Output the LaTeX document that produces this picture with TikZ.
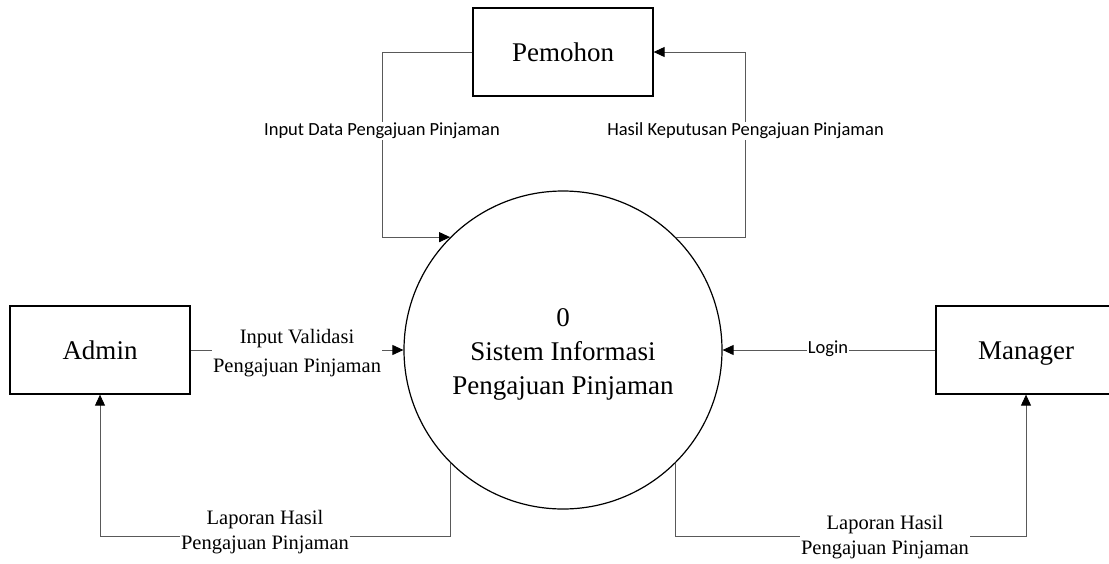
\documentclass[tikz,border=0pt]{standalone}
\usepackage{fontspec}
\setmainfont{Liberation Serif}
\newfontfamily\lblfont{Carlito}
\usetikzlibrary{arrows.meta}
\begin{document}
\begin{tikzpicture}[x=1pt,y=-1pt,
  entity/.style={draw=black,line width=1.3pt,minimum width=180pt,minimum height=88pt,inner sep=0pt,text height=18.5pt,text depth=0pt,font=\fontsize{27}{32}\selectfont},
  process/.style={draw=black,line width=1.2pt,circle,minimum size=318pt,inner sep=0pt,align=center,font=\fontsize{27}{34}\selectfont},
  flow/.style={draw=black!65,line width=0.9pt,-{Triangle[length=11pt,width=10pt,fill=black,color=black]}},
  sanslbl/.style={fill=white,inner sep=1pt,font=\lblfont\fontsize{18.5}{22}\selectfont},
  seriflbl/.style={fill=white,inner sep=1pt,align=center}
]
\clip (0,0) rectangle (1109,563);
\fill[white] (0,0) rectangle (1109,563);

\node[entity] (pemohon) at (563,52) {Pemohon};
\node[entity] (admin) at (100,350) {Admin};
\node[entity] (manager) at (1026,350) {Manager};
\node[process] (proc) at (563,350) {};
\node[align=center,font=\fontsize{27}{34}\selectfont] (proctext) at (563,354) {0\\Sistem Informasi\\Pengajuan Pinjaman};

\coordinate (lx) at (382,0);
\coordinate (rx) at (745.6,0);
\coordinate (by) at (0,536);

\draw[flow] (pemohon.west) -| (lx |- proc.135) -- (proc.135);
\draw[flow] (proc.45) -- (rx |- proc.45) |- (pemohon.east);
\draw[flow] (admin.east) -- (proc.west);
\draw[flow] (manager.west) -- (proc.east);
\draw[flow] (proc.225) -- (proc.225 |- by) -| (admin.south);
\draw[flow] (proc.315) -- (proc.315 |- by) -| (manager.south);

\node[sanslbl] (l1) at (382,131) {Input Data Pengajuan Pinjaman};
\node[sanslbl] (l2) at (745.6,131) {Hasil Keputusan Pengajuan Pinjaman};
\node[sanslbl] (l3) at (828,349) {Login};
\node[seriflbl,font=\fontsize{20.5}{29}\selectfont] (l4) at (297,353) {Input Validasi\\Pengajuan Pinjaman};
\node[seriflbl,font=\fontsize{20.5}{25}\selectfont] (l5) at (265,532) {Laporan Hasil\\Pengajuan Pinjaman};
\node[seriflbl,font=\fontsize{20.5}{25}\selectfont] (l6) at (885,537) {Laporan Hasil\\Pengajuan Pinjaman};
\end{tikzpicture}
\end{document}
